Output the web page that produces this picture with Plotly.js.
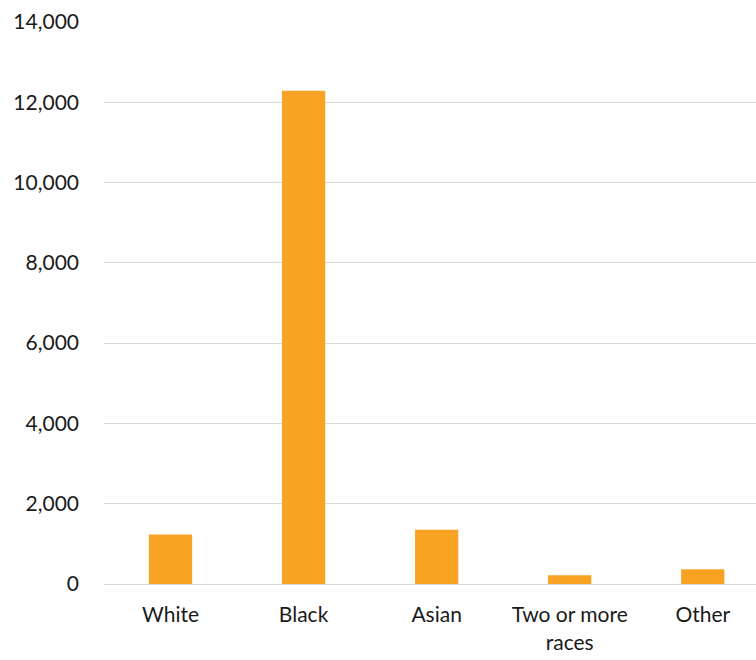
<!DOCTYPE html>
<html>
<head>
<meta charset="utf-8">
<script src="https://cdn.plot.ly/plotly-3.0.1.min.js"></script>
<style>
  html, body { margin: 0; padding: 0; background: #fff; }
  #chart { width: 756px; height: 660px; }
</style>
</head>
<body>
<div id="chart"></div>
<script>
// Population counts by race
const categories = ['White', 'Black', 'Asian', 'Two or more<br>races', 'Other'];
const counts = [1230, 12290, 1350, 215, 365];
const yTicks = [0, 2000, 4000, 6000, 8000, 10000, 12000, 14000];

const trace = {
  type: 'bar',
  x: categories,
  y: counts,
  marker: { color: '#F8A323' },
  hoverinfo: 'x+y'
};

const layout = {
  width: 756,
  height: 660,
  margin: { l: 104, r: 0, t: 22, b: 76 },
  paper_bgcolor: '#ffffff',
  plot_bgcolor: '#ffffff',
  bargap: 0.675,
  showlegend: false,
  font: { family: 'Lato, "Open Sans", sans-serif', size: 21, color: '#1a1a1a' },
  xaxis: {
    // the last category band runs slightly past the right edge
    range: [-0.5, 4.4],
    showgrid: false,
    showline: true,
    linecolor: '#d9d9d9',
    linewidth: 1,
    ticks: '',
    ticklabelstandoff: 12,
    tickfont: { size: 21, color: '#1a1a1a' }
  },
  yaxis: {
    range: [0, 14000],
    tickvals: yTicks,
    ticktext: yTicks.map(v => v.toLocaleString('en-US')),
    showgrid: true,
    gridcolor: '#d9d9d9',
    gridwidth: 1,
    zeroline: false,
    showline: false,
    ticks: '',
    ticklabelstandoff: 24,
    tickfont: { size: 21, color: '#1a1a1a' }
  }
};

Plotly.newPlot('chart', [trace], layout, { displayModeBar: false, staticPlot: true });
</script>
</body>
</html>
